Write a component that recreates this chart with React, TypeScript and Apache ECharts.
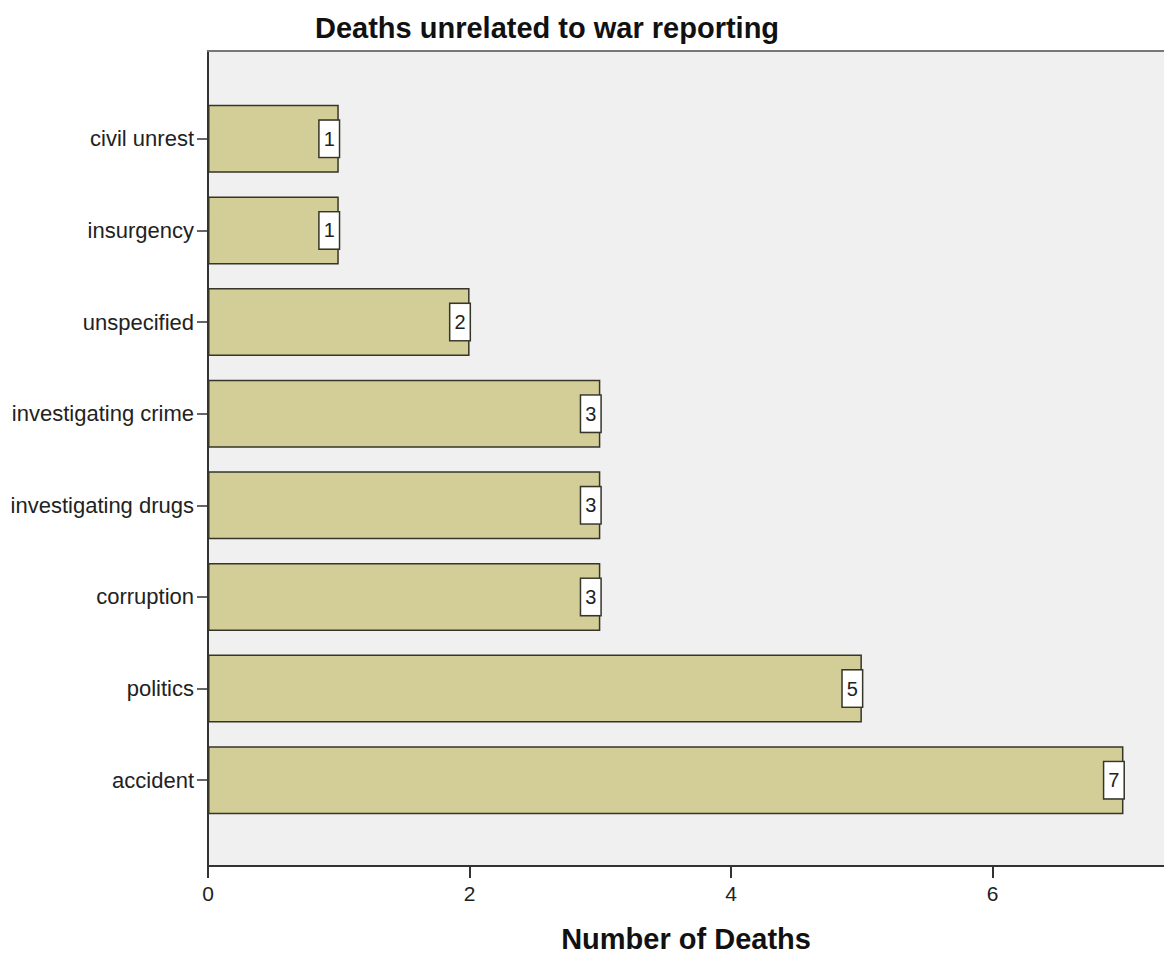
import React, { useEffect, useRef } from "react";
import * as echarts from "echarts";

const categories = [
  "accident",
  "politics",
  "corruption",
  "investigating drugs",
  "investigating crime",
  "unspecified",
  "insurgency",
  "civil unrest",
];
const deaths = [7, 5, 3, 3, 3, 2, 1, 1];
const xTickValues = [0, 2, 4, 6];
const titleText = "Deaths unrelated to war reporting";
const xAxisTitle = "Number of Deaths";

const FONT = "'Liberation Sans', Arial, sans-serif";
const X_MAX = 7.31;

export default function App() {
  const ref = useRef<HTMLDivElement>(null);

  useEffect(() => {
    if (!ref.current) return;
    const chart = echarts.init(ref.current, undefined, { renderer: "svg" });
    chart.setOption({
      animation: false,
      backgroundColor: "#ffffff",
      title: {
        text: titleText,
        left: 310,
        top: 8,
        textStyle: {
          fontFamily: FONT,
          fontWeight: "bold",
          fontSize: 29,
          color: "#111",
        },
      },
      grid: [
        {
          left: 208,
          top: 51,
          right: 0,
          bottom: 89,
          show: true,
          backgroundColor: "#f0f0f0",
          borderWidth: 0,
          containLabel: false,
          outerBoundsMode: "none",
        },
        {
          left: 208,
          top: 93,
          right: 0,
          bottom: 129,
          containLabel: false,
          outerBoundsMode: "none",
        },
      ],
      xAxis: [
        {
          type: "value",
          gridIndex: 0,
          min: 0,
          max: X_MAX,
          interval: 2,
          name: xAxisTitle,
          nameLocation: "middle",
          nameGap: 58,
          nameTextStyle: {
            fontFamily: FONT,
            fontWeight: "bold",
            fontSize: 29,
            color: "#111",
          },
          axisLine: { show: true, lineStyle: { color: "#333", width: 2 } },
          axisTick: {
            show: true,
            length: 12,
            customValues: xTickValues,
            lineStyle: { color: "#333", width: 2 },
          },
          axisLabel: {
            customValues: xTickValues,
            fontFamily: FONT,
            fontSize: 21,
            color: "#222",
            margin: 17,
          },
          splitLine: { show: false },
        },
        {
          type: "value",
          gridIndex: 0,
          position: "top",
          min: 0,
          max: X_MAX,
          axisLine: { show: true, lineStyle: { color: "#777", width: 2 } },
          axisTick: { show: false },
          axisLabel: { show: false },
          splitLine: { show: false },
        },
        {
          type: "value",
          gridIndex: 1,
          min: 0,
          max: X_MAX,
          show: false,
          splitLine: { show: false },
        },
      ],
      yAxis: [
        {
          type: "value",
          gridIndex: 0,
          min: 0,
          max: 1,
          axisLine: { show: true, lineStyle: { color: "#333", width: 2 } },
          axisTick: { show: false },
          axisLabel: { show: false },
          splitLine: { show: false },
        },
        {
          type: "category",
          gridIndex: 1,
          data: categories,
          axisLine: { show: false },
          axisTick: {
            show: true,
            alignWithLabel: true,
            length: 11,
            lineStyle: { color: "#333", width: 1.5 },
          },
          axisLabel: {
            fontFamily: FONT,
            fontSize: 22,
            color: "#222",
            margin: 14,
          },
          splitLine: { show: false },
        },
      ],
      series: [
        {
          type: "bar",
          xAxisIndex: 2,
          yAxisIndex: 1,
          data: deaths,
          barWidth: 68,
          itemStyle: {
            color: "#d3ce97",
            borderColor: "#35352a",
            borderWidth: 1.5,
          },
          label: {
            show: true,
            position: "insideRight",
            distance: 0,
            fontFamily: FONT,
            fontSize: 20,
            color: "#222",
            backgroundColor: "#ffffff",
            borderColor: "#35352a",
            borderWidth: 1.5,
            padding: [8, 4],
          },
        },
      ],
    });
    return () => chart.dispose();
  }, []);

  return (
    <div
      ref={ref}
      style={{
        position: "absolute",
        left: 0,
        top: 0,
        width: 1164,
        height: 955,
      }}
    />
  );
}
